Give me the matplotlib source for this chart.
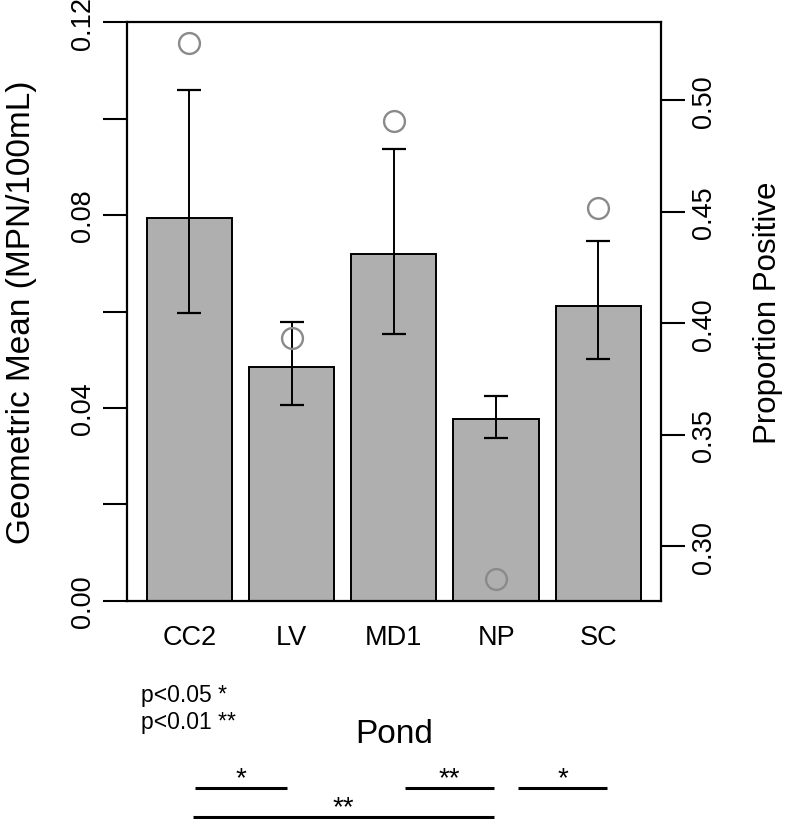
import matplotlib
matplotlib.use('Agg')
import matplotlib.pyplot as plt
from matplotlib.transforms import blended_transform_factory

plt.rcParams['font.family'] = ['Liberation Sans', 'DejaVu Sans']

# ---------------- data ----------------
ponds = ['CC2', 'LV', 'MD1', 'NP', 'SC']
geo_mean = [0.0795, 0.0485, 0.0720, 0.0378, 0.0612]
err_lower = [0.0596, 0.0406, 0.0554, 0.0338, 0.0501]
err_upper = [0.1060, 0.0578, 0.0938, 0.0425, 0.0746]
prop_positive = [0.5257, 0.3933, 0.4909, 0.2854, 0.4516]

left_ticks = [0.00, 0.04, 0.08, 0.12]
left_tick_labels = ['0.00', '0.04', '0.08', '0.12']
left_minor_ticks = [0.02, 0.06, 0.10]
right_ticks = [0.30, 0.35, 0.40, 0.45, 0.50]
right_tick_labels = ['0.30', '0.35', '0.40', '0.45', '0.50']

# significance comparisons (x extents in bar-axis units)
comp_labels = ['*', '**', '*', '**']
comp_start = [0.77, 3.23, 4.56, 0.74]
comp_end = [1.85, 4.28, 5.60, 4.28]
comp_row = [0, 0, 0, 1]
legend_lines = ['p<0.05 *', 'p<0.01 **']

# ---------------- layout ----------------
W, H = 792, 820
fig = plt.figure(figsize=(W / 100, H / 100), dpi=100)
L, R, T, B = 127, 660.7, 23.3, 601.7


def fy(py):
    return 1 - py / H


ax = fig.add_axes([L / W, 1 - B / H, (R - L) / W, (B - T) / H])

xpos = [0.7 + 1.2 * i for i in range(len(ponds))]
ax.bar(xpos, geo_mean, width=1.0, color='#afafaf', edgecolor='black',
       linewidth=1.4, zorder=2)
yerr = [[m - l for m, l in zip(geo_mean, err_lower)],
        [u - m for m, u in zip(geo_mean, err_upper)]]
ax.errorbar(xpos, geo_mean, yerr=yerr, fmt='none', ecolor='black',
            elinewidth=1.4, capsize=8.3, capthick=1.6, zorder=3)
ax.set_xlim(-0.032, 6.232)
ax.set_ylim(0, 0.12)

ax.set_xticks(xpos, ponds)
ax.tick_params(axis='x', length=0, pad=17, labelsize=19.5)
ax.set_yticks(left_ticks, left_tick_labels, rotation=90, va='center')
ax.set_yticks(left_minor_ticks, minor=True)
ax.tick_params(axis='y', which='both', length=17, width=1.5, pad=5,
               labelsize=19.5)
for s in ax.spines.values():
    s.set_linewidth(1.6)

ax.set_ylabel('Geometric Mean (MPN/100mL)', fontsize=24, va='center')
ax.yaxis.set_label_coords((22 - L) / (R - L), 0.5)
ax.set_xlabel('Pond', fontsize=24, va='center')
ax.xaxis.set_label_coords(0.5, (B - 735) / (B - T))

# right axis: proportion positive
ax2 = ax.twinx()
ax2.set_ylim(0.2755, 0.535)
ax2.plot(xpos, prop_positive, linestyle='none', marker='o', markersize=15,
         markerfacecolor='none', markeredgecolor='#8a8a8a',
         markeredgewidth=1.7, zorder=4)
ax2.set_yticks(right_ticks, right_tick_labels, rotation=90, va='center')
ax2.tick_params(axis='y', length=17, width=1.5, pad=5, labelsize=19.5)
for s in ax2.spines.values():
    s.set_visible(False)
ax2.set_ylabel('Proportion Positive', fontsize=22.5, va='center')
ax2.yaxis.set_label_coords((768 - L) / (R - L), 0.5)

# legend text for p-values
for i, txt in enumerate(legend_lines):
    fig.text(141 / W, fy(702 + 27 * i), txt, ha='left', va='baseline',
             fontsize=16.5)

# significance brackets
trans = blended_transform_factory(ax.transData, fig.transFigure)
row_line_y = [789, 818]
row_text_y = [786, 815]
for lab, s, e, r in zip(comp_labels, comp_start, comp_end, comp_row):
    ax.plot([s, e], [fy(row_line_y[r])] * 2, transform=trans, clip_on=False,
            color='black', linewidth=2.2, solid_capstyle='butt')
    ax.text((s + e) / 2, fy(row_text_y[r]), lab, transform=trans,
            ha='center', va='baseline', fontsize=20)

fig.savefig('out.png', dpi=100)
